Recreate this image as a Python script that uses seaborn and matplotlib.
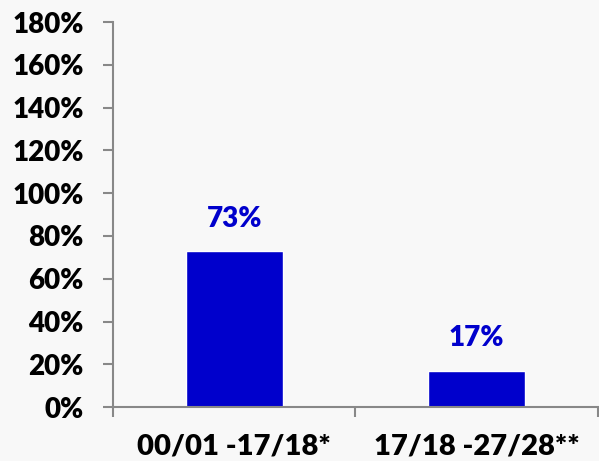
import matplotlib
matplotlib.use("Agg")
import matplotlib.pyplot as plt
import seaborn as sns
import pandas as pd
from matplotlib.ticker import PercentFormatter, FixedLocator

periods = ["00/01 -17/18*", "17/18 -27/28**"]
growth = [73, 17]
bar_labels = ["73%", "17%"]

def main():
    sns.set_style("white")
    plt.rcParams["font.family"] = ["Lato", "DejaVu Sans"]
    wt = "heavy"

    df = pd.DataFrame({"period": periods, "growth": growth})
    fig = plt.figure(figsize=(5.99, 4.61), dpi=100, facecolor="#f8f8f8")
    ax = fig.add_axes([0.1886, 0.117, 0.8094, 0.835])
    ax.set_facecolor("#f8f8f8")

    sns.barplot(ax=ax, data=df, x="period", y="growth", color="#0000cc",
                saturation=1, width=0.4)
    for p, lab in zip(ax.patches, bar_labels):
        ax.annotate(lab, (p.get_x() + p.get_width() / 2, p.get_height()),
                    xytext=(0, 14), textcoords="offset points",
                    ha="center", va="bottom", color="#0000cc",
                    fontsize=20, fontweight=wt)

    ax.set_ylim(0, 180)
    ax.set_xlim(-0.5, 1.5)
    ax.set_yticks(range(0, 181, 20))
    ax.yaxis.set_major_formatter(PercentFormatter(decimals=0))
    ax.set_xlabel("")
    ax.set_ylabel("")
    ax.xaxis.set_minor_locator(FixedLocator([-0.5, 0.5, 1.5]))

    for side in ["top", "right"]:
        ax.spines[side].set_visible(False)
    for side in ["left", "bottom"]:
        ax.spines[side].set_color("#888888")
        ax.spines[side].set_linewidth(1.5)

    ax.tick_params(axis="y", which="major", left=True, length=7, width=1.5,
                   color="#888888", pad=14, labelsize=20, labelcolor="black")
    ax.tick_params(axis="x", which="major", bottom=False, length=0, pad=19,
                   labelsize=21, labelcolor="black")
    ax.tick_params(axis="x", which="minor", bottom=True, length=7, width=1.5,
                   color="#888888")
    for t in ax.get_xticklabels() + ax.get_yticklabels():
        t.set_fontweight(wt)

    fig.savefig("out.png", dpi=100, facecolor=fig.get_facecolor())

if __name__ == "__main__":
    main()
